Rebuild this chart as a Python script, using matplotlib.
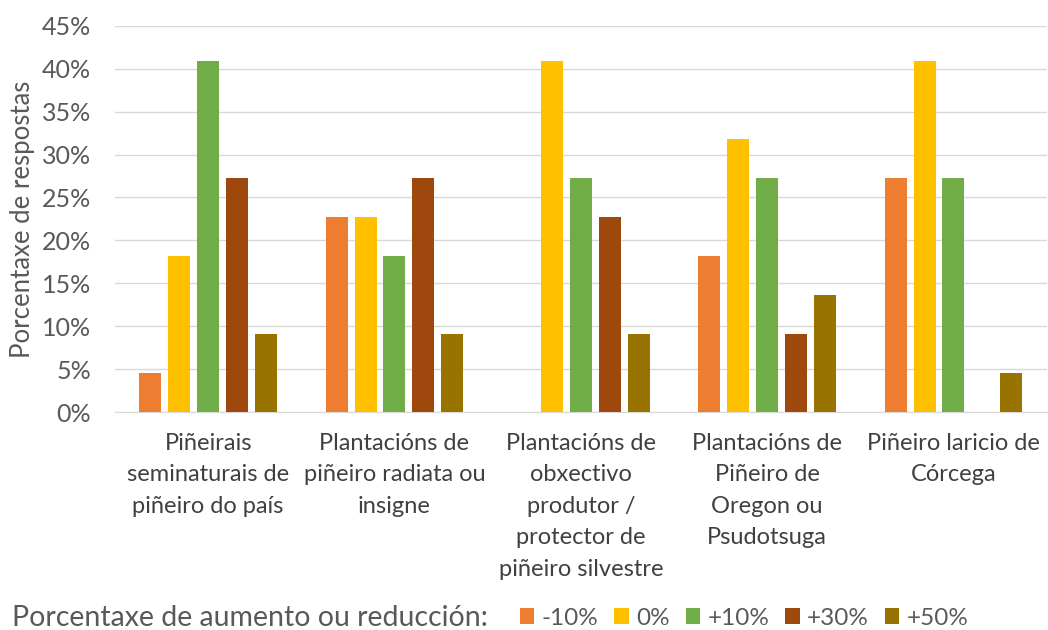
import matplotlib

matplotlib.use("Agg")

import matplotlib.pyplot as plt
import numpy as np
from matplotlib.ticker import FuncFormatter, MultipleLocator

plt.rcParams["font.family"] = ["Lato", "DejaVu Sans"]

categories = [
    "Piñeirais\nseminaturais de\npiñeiro do país",
    "Plantacións de\npiñeiro radiata ou\ninsigne",
    "Plantacións de\nobxectivo\nprodutor /\nprotector de\npiñeiro silvestre",
    "Plantacións de\nPiñeiro de\nOregon ou\nPsudotsuga",
    "Piñeiro laricio de\nCórcega",
]
series_labels = ["-10%", "0%", "+10%", "+30%", "+50%"]
minus10 = [4.5, 22.7, 0.0, 18.2, 27.3]
zero = [18.2, 22.7, 40.9, 31.8, 40.9]
plus10 = [40.9, 18.2, 27.3, 27.3, 27.3]
plus30 = [27.3, 27.3, 22.7, 9.1, 0.0]
plus50 = [9.1, 9.1, 9.1, 13.6, 4.5]
colors = ["#ED7D31", "#FFC000", "#70AD47", "#9E480E", "#997300"]

TEXT = "#595959"
GRID = "#D9D9D9"

fig = plt.figure(figsize=(10.48, 6.3), dpi=100)
ax = fig.add_axes([0.1097, 0.346, 0.889, 0.613])

x = np.arange(len(categories))
step = 0.155
width = 0.118
for i, (vals, lab, col) in enumerate(
    zip([minus10, zero, plus10, plus30, plus50], series_labels, colors)
):
    ax.bar(x + (i - 2) * step, vals, width=width, color=col, label=lab, zorder=3)

ax.set_xlim(-0.5, len(categories) - 0.5)
ax.set_ylim(0, 45)
ax.yaxis.set_major_locator(MultipleLocator(5))
ax.yaxis.set_major_formatter(FuncFormatter(lambda v, _: f"{v:.0f}%"))
ax.grid(axis="y", color=GRID, linewidth=1, zorder=0)
for side in ["top", "right", "left"]:
    ax.spines[side].set_visible(False)
ax.spines["bottom"].set_color(GRID)
ax.tick_params(axis="y", length=0, labelsize=18, labelcolor=TEXT, pad=17)
ax.tick_params(axis="x", length=0, labelsize=17, labelcolor="#404040", pad=15)
ax.set_xticks(x)
ax.set_xticklabels(categories, linespacing=1.62)
ax.set_ylabel("Porcentaxe de respostas", fontsize=18.5, color=TEXT, labelpad=5)

fig.text(0.011, 0.019, "Porcentaxe de aumento ou reducción:", fontsize=20.5,
         color=TEXT, va="center")
fig.legend(loc="center left", bbox_to_anchor=(0.496, 0.019), ncol=5, frameon=False,
           fontsize=17.5, labelcolor=TEXT, handlelength=0.6, handleheight=0.6,
           handletextpad=0.3, columnspacing=0.65, borderaxespad=0, borderpad=0)

fig.savefig("out.png", dpi=100)
